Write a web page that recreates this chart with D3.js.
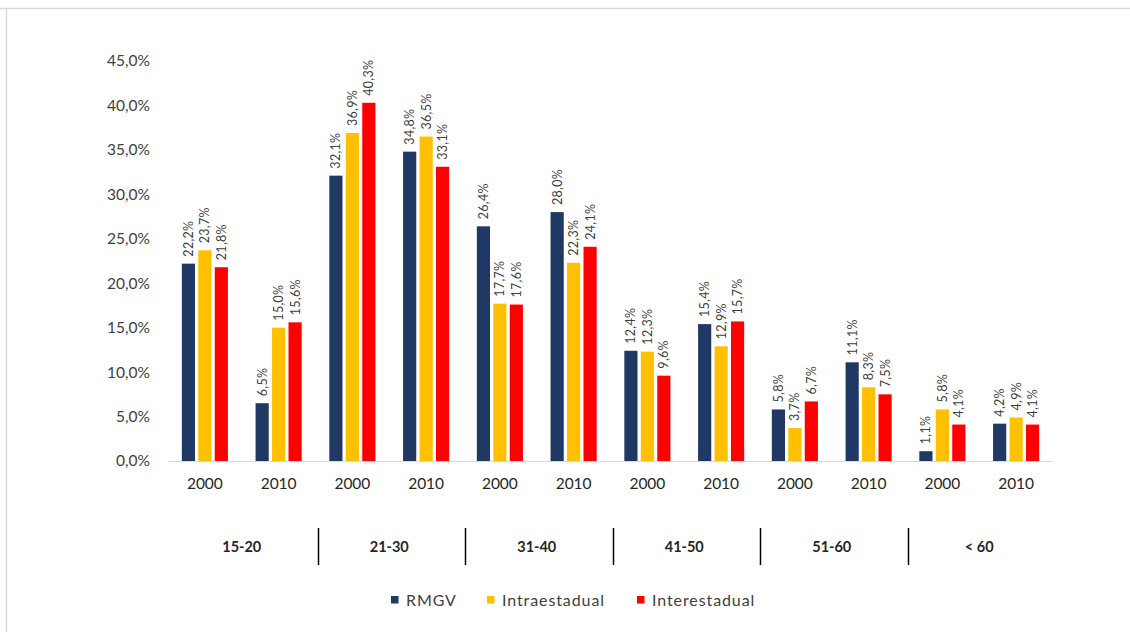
<!DOCTYPE html>
<html>
<head>
<meta charset="utf-8">
<script src="https://cdn.jsdelivr.net/npm/d3@7"></script>
<style>
  html, body { margin: 0; padding: 0; background: #fff; }
  svg { display: block; font-family: Lato, "Open Sans", sans-serif; }
</style>
</head>
<body>
<svg id="chart" width="1130" height="632"></svg>
<script>
const ageGroups = ["15-20", "21-30", "31-40", "41-50", "51-60", "< 60"];
const years = ["2000", "2010"];
const seriesNames = ["RMGV", "Intraestadual", "Interestadual"];
const seriesColors = ["#1f3864", "#ffc000", "#ff0000"];
const rmgv = [22.2, 6.5, 32.1, 34.8, 26.4, 28.0, 12.4, 15.4, 5.8, 11.1, 1.1, 4.2];
const intraestadual = [23.7, 15.0, 36.9, 36.5, 17.7, 22.3, 12.3, 12.9, 3.7, 8.3, 5.8, 4.9];
const interestadual = [21.8, 15.6, 40.3, 33.1, 17.6, 24.1, 9.6, 15.7, 6.7, 7.5, 4.1, 4.1];
const yTicks = [0, 5, 10, 15, 20, 25, 30, 35, 40, 45];

const seriesValues = [rmgv, intraestadual, interestadual];
const fmt = v => v.toFixed(1).replace(".", ",") + "%";

const svg = d3.select("#chart");
const W = 1130, H = 632;
const plotLeft = 168, plotRight = 1053, plotTop = 61, plotBottom = 461;

// frame (top + left light border)
svg.append("line").attr("x1", 0).attr("x2", W).attr("y1", 8.5).attr("y2", 8.5)
  .attr("stroke", "#d9d9d9").attr("stroke-width", 1.5);
svg.append("line").attr("x1", 6.5).attr("x2", 6.5).attr("y1", 8).attr("y2", H)
  .attr("stroke", "#d9d9d9").attr("stroke-width", 1.5);

const cats = [];
ageGroups.forEach((g, gi) => years.forEach((yr, yi) => cats.push({ key: gi + "-" + yi, group: g, year: yr, idx: gi * 2 + yi })));

const x0 = d3.scaleBand().domain(cats.map(c => c.key)).range([plotLeft, plotRight]).paddingInner(0.375).paddingOuter(0.1875);
const x1 = d3.scaleBand().domain(seriesNames).range([0, x0.bandwidth()]).paddingInner(0.2);
const y = d3.scaleLinear().domain([0, 45]).range([plotBottom, plotTop]);

// y axis labels
const yAxis = d3.axisLeft(y).tickValues(yTicks).tickSize(0).tickPadding(0)
  .tickFormat(d => d.toFixed(1).replace(".", ",") + "%");
const ya = svg.append("g").attr("transform", `translate(150,0)`).call(yAxis);
ya.select(".domain").remove();
ya.selectAll("text").attr("font-size", 15.5).attr("fill", "#404040").attr("font-family", "Lato, 'Open Sans', sans-serif");

// bars
const gCats = svg.append("g").selectAll("g").data(cats).join("g")
  .attr("transform", d => `translate(${x0(d.key)},0)`);

seriesNames.forEach((s, si) => {
  gCats.append("rect")
    .attr("x", x1(s))
    .attr("y", d => y(seriesValues[si][d.idx]))
    .attr("width", x1.bandwidth())
    .attr("height", d => y(0) - y(seriesValues[si][d.idx]))
    .attr("fill", seriesColors[si]);
  gCats.append("text")
    .attr("transform", d => `translate(${x1(s) + x1.bandwidth() / 2 + 4.5},${y(seriesValues[si][d.idx]) - 7}) rotate(-90)`)
    .attr("text-anchor", "start")
    .attr("font-size", 12.5)
    .attr("letter-spacing", 0.3)
    .attr("fill", "#404040")
    .text(d => fmt(seriesValues[si][d.idx]));
});

// x axis line
svg.append("line").attr("x1", plotLeft).attr("x2", plotRight).attr("y1", plotBottom + 0.5).attr("y2", plotBottom + 0.5)
  .attr("stroke", "#d9d9d9").attr("stroke-width", 1);

// year labels
const xAxis = d3.axisBottom(x0).tickSize(0).tickPadding(0).tickFormat(k => cats.find(c => c.key === k).year);
const xa = svg.append("g").attr("transform", `translate(0,${plotBottom + 17})`).call(xAxis);
xa.select(".domain").remove();
xa.selectAll("text").attr("font-size", 15.5).attr("fill", "#262626").attr("font-family", "Lato, 'Open Sans', sans-serif");

// group labels
ageGroups.forEach((g, gi) => {
  const cx = (x0(gi + "-0") + x0(gi + "-1") + x0.bandwidth()) / 2;
  svg.append("text").attr("x", cx).attr("y", 552).attr("text-anchor", "middle")
    .attr("font-size", 14.5).attr("font-weight", "bold").attr("fill", "#262626").text(g);
  if (gi > 0) {
    const sx = Math.round(x0(gi + "-0") - (x0(gi + "-0") - (x0((gi - 1) + "-1") + x0.bandwidth())) / 2 + 2) + 0.5;
    svg.append("line").attr("x1", sx).attr("x2", sx).attr("y1", 528).attr("y2", 565)
      .attr("stroke", "#000").attr("stroke-width", 1.5);
  }
});

// legend
const legendX = [391, 487, 637];
seriesNames.forEach((s, si) => {
  const g = svg.append("g").attr("transform", `translate(${legendX[si]},600)`);
  g.append("rect").attr("x", 0).attr("y", -4).attr("width", 7.5).attr("height", 7.5).attr("fill", seriesColors[si]);
  g.append("text").attr("x", 15).attr("y", 5.5).attr("font-size", 16).attr("letter-spacing", 0.9)
    .attr("fill", "#404040").text(s);
});
</script>
</body>
</html>
